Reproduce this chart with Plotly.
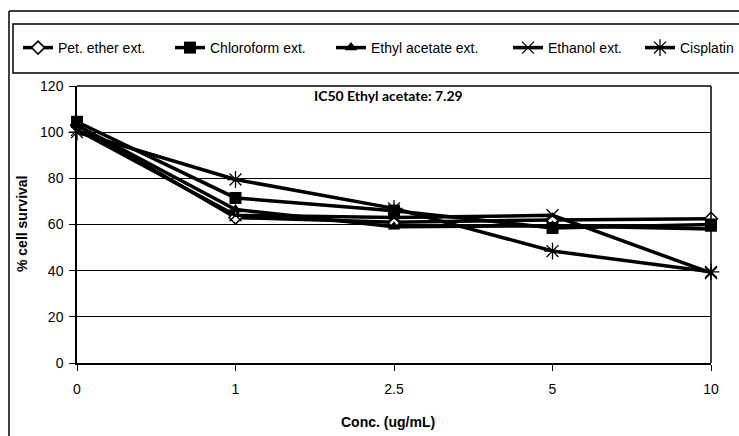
import plotly.graph_objects as go

# ---- data ----
conc = ["0", "1", "2.5", "5", "10"]
pet_ether = [103, 63, 61, 62, 62.5]
chloroform = [104.5, 71.5, 66, 58.5, 60]
ethyl_acetate = [103, 66.5, 59, 59.5, 58]
ethanol = [101, 64, 63, 64, 39]
cisplatin = [100, 79.5, 67, 48.5, 39.5]
y_ticks = [0, 20, 40, 60, 80, 100, 120]
series_names = ["Pet. ether ext.", "Chloroform ext.", "Ethyl acetate ext.", "Ethanol ext.", "Cisplatin"]

W, H = 739, 436
L, R, T, B = 77, 711, 86, 363  # plot area in pixels

def px(x):
    return (x - L) / (R - L)

def py(y):
    return (B - y) / (B - T)

fig = go.Figure()

markers = [
    dict(symbol="diamond", size=10, color="white", line=dict(color="black", width=1.5)),
    dict(symbol="square", size=12, color="black", line=dict(color="black", width=0)),
    dict(symbol="triangle-up", size=11, color="black", line=dict(color="black", width=0)),
    dict(symbol="x-thin-open", size=12, color="black", line=dict(color="black", width=1.3)),
    dict(symbol="asterisk-open", size=14, color="black", line=dict(color="black", width=1.3)),
]
values = [pet_ether, chloroform, ethyl_acetate, ethanol, cisplatin]
legend_ids = ["legend", "legend2", "legend3", "legend4", "legend5"]
legend_x = [18, 170, 331, 508, 640]

for name, vals, mk, lg in zip(series_names, values, markers, legend_ids):
    fig.add_trace(go.Scatter(
        x=conc, y=vals, name=name, mode="lines+markers",
        line=dict(color="black", width=3.5), marker=mk, cliponaxis=False,
        legend=lg,
    ))

layout_legends = {}
for lg, lx in zip(legend_ids, legend_x):
    layout_legends[lg] = dict(
        orientation="h", x=px(lx), y=py(48), xanchor="left", yanchor="middle",
        font=dict(size=14, family="Liberation Sans, Arial"),
        bgcolor="rgba(0,0,0,0)", borderwidth=0, itemwidth=30,
    )

fig.update_layout(
    width=W, height=H,
    margin=dict(l=L, r=W - R, t=T, b=H - B, autoexpand=False),
    paper_bgcolor="white", plot_bgcolor="white",
    font=dict(family="Liberation Sans, Arial", color="black"),
    showlegend=True,
    **layout_legends,
)
fig.update_xaxes(
    type="category", range=[0, 4], showgrid=False,
    showline=True, linecolor="black", linewidth=2, mirror=False,
    ticks="outside", ticklen=6, tickcolor="black", tickwidth=1,
    tickfont=dict(size=14), zeroline=False, ticklabelstandoff=6,
)
fig.update_yaxes(
    range=[0, 120], tickvals=y_ticks, showgrid=True, gridcolor="black", gridwidth=1,
    showline=True, linecolor="black", linewidth=1.5, mirror=False,
    ticks="outside", ticklen=6, tickcolor="black", tickwidth=1,
    tickfont=dict(size=14), zeroline=False, ticklabelstandoff=3,
)

# plot frame (top and right)
fig.add_shape(type="line", xref="paper", yref="paper", x0=0, x1=1, y0=1, y1=1,
              line=dict(color="black", width=1.5))
fig.add_shape(type="line", xref="paper", yref="paper", x0=1, x1=1, y0=0, y1=1,
              line=dict(color="black", width=1.5))
# outer chart border
fig.add_shape(type="line", xref="paper", yref="paper", x0=px(9), x1=px(9), y0=py(11), y1=py(440),
              line=dict(color="black", width=1.5))
fig.add_shape(type="line", xref="paper", yref="paper", x0=px(9), x1=px(745), y0=py(11), y1=py(11),
              line=dict(color="black", width=1.5))
# legend box
fig.add_shape(type="rect", xref="paper", yref="paper", x0=px(13), x1=px(748), y0=py(24), y1=py(73),
              line=dict(color="black", width=1.5))

# chart title
fig.add_annotation(text="<b>IC50 Ethyl acetate: 7.29</b>", xref="paper", yref="paper",
                   x=px(388), y=py(96), showarrow=False, xanchor="center", yanchor="middle",
                   font=dict(size=14, family="Lato, Open Sans"))
# axis titles
fig.add_annotation(text="<b>Conc. (ug/mL)</b>", xref="paper", yref="paper",
                   x=px(388), y=py(422), showarrow=False, xanchor="center", yanchor="middle",
                   font=dict(size=14))
fig.add_annotation(text="<b>% cell survival</b>", xref="paper", yref="paper",
                   x=px(22), y=py(224), showarrow=False, xanchor="center", yanchor="middle",
                   textangle=-90, font=dict(size=14))

fig.write_html("out.html")
